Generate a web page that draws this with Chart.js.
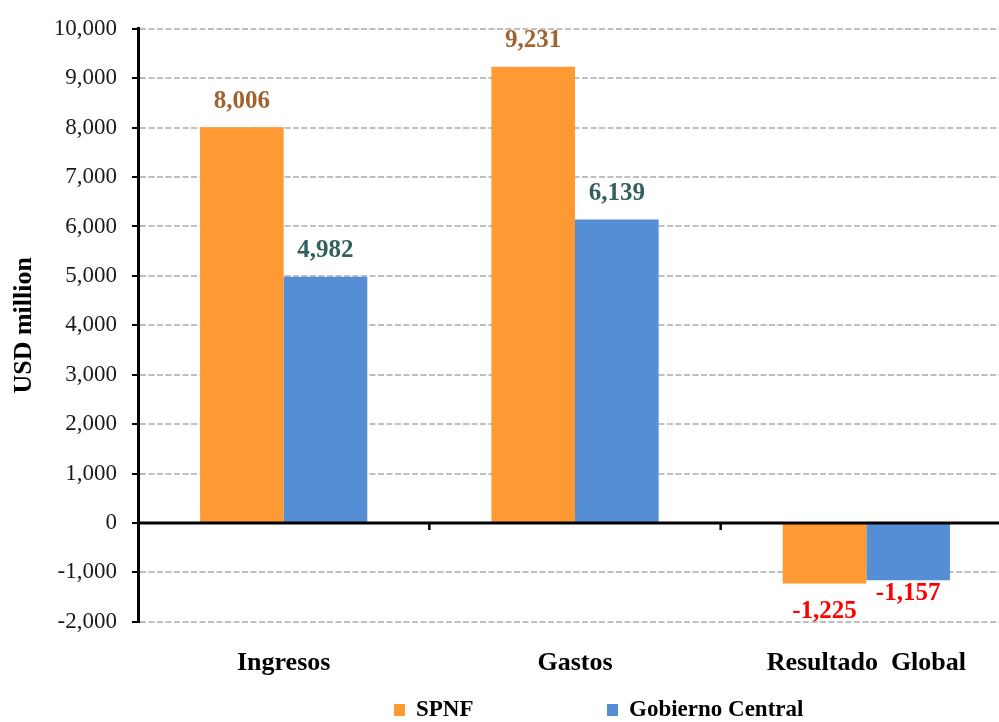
<!DOCTYPE html>
<html>
<head>
<meta charset="utf-8">
<script src="https://cdn.jsdelivr.net/npm/chart.js@4"></script>
<style>
  html, body { margin: 0; padding: 0; overflow: hidden; background: #ffffff; }
  #wrap { width: 1040px; height: 722px; position: relative; }
</style>
</head>
<body>
<div id="wrap"><canvas id="chart" width="1040" height="722"></canvas></div>
<script>
// Fiscal aggregates, USD million
const categories = ['Ingresos', 'Gastos', 'Resultado  Global'];
const seriesNames = ['SPNF', 'Gobierno Central'];
const spnfValues = [8006, 9231, -1225];
const gobiernoCentralValues = [4982, 6139, -1157];
const yAxisMin = -2000;
const yAxisMax = 10000;
const yAxisStep = 1000;

const SERIF = "'Liberation Serif', 'Times New Roman', serif";
Chart.defaults.font.family = SERIF;
Chart.defaults.color = '#000000';

const fmt = v => Number(v).toLocaleString('en-US');

// Solid zero line with short marks between the categories
const zeroAxis = {
  id: 'zeroAxis',
  afterDatasetsDraw(chart) {
    const { ctx, chartArea, scales: { x, y } } = chart;
    const y0 = y.getPixelForValue(0);
    ctx.save();
    ctx.strokeStyle = '#000000';
    ctx.lineWidth = 3;
    ctx.beginPath();
    ctx.moveTo(chartArea.left, y0);
    ctx.lineTo(chartArea.right, y0);
    ctx.stroke();
    ctx.lineWidth = 2.5;
    ctx.beginPath();
    for (let i = 1; i < categories.length; i++) {
      const px = (x.getPixelForTick(i - 1) + x.getPixelForTick(i)) / 2;
      ctx.moveTo(px, y0);
      ctx.lineTo(px, y0 + 7);
    }
    ctx.stroke();
    ctx.restore();
  }
};

// Value labels above positive bars and below negative ones
const valueLabels = {
  id: 'valueLabels',
  afterDatasetsDraw(chart) {
    const { ctx } = chart;
    ctx.save();
    ctx.font = 'bold 25px ' + SERIF;
    ctx.textAlign = 'center';
    ctx.textBaseline = 'middle';
    chart.data.datasets.forEach((ds, i) => {
      const meta = chart.getDatasetMeta(i);
      meta.data.forEach((bar, j) => {
        const v = ds.data[j];
        const positive = v >= 0;
        ctx.fillStyle = positive ? ds.labelColor : '#FF0000';
        const yPos = positive ? bar.y - ds.labelGapAbove : bar.y + ds.labelGapBelow;
        ctx.fillText(fmt(v), bar.x, yPos);
      });
    });
    ctx.restore();
  }
};

// Legend row under the category labels
const bottomLegend = {
  id: 'bottomLegend',
  afterDraw(chart, args, opts) {
    const { ctx } = chart;
    ctx.save();
    ctx.font = 'bold 23px ' + SERIF;
    ctx.textAlign = 'left';
    ctx.textBaseline = 'middle';
    chart.data.datasets.forEach((ds, i) => {
      const x = opts.itemX[i];
      ctx.fillStyle = ds.backgroundColor;
      ctx.fillRect(x, opts.y - 6, 11, 12);
      ctx.fillStyle = '#000000';
      ctx.fillText(ds.label, x + 22, opts.y);
    });
    ctx.restore();
  }
};

new Chart(document.getElementById('chart'), {
  type: 'bar',
  data: {
    labels: categories,
    datasets: [
      {
        label: seriesNames[0],
        data: spnfValues,
        backgroundColor: '#FF9933',
        labelColor: '#A0632F',
        labelGapAbove: 26,
        labelGapBelow: 28,
        barPercentage: 1.0,
        categoryPercentage: 0.574
      },
      {
        label: seriesNames[1],
        data: gobiernoCentralValues,
        backgroundColor: '#558ED5',
        labelColor: '#31605E',
        labelGapAbove: 26,
        labelGapBelow: 13,
        barPercentage: 1.0,
        categoryPercentage: 0.574
      }
    ]
  },
  options: {
    responsive: false,
    animation: false,
    layout: { padding: { top: 23, right: 28, bottom: 17, left: 0 } },
    plugins: {
      legend: { display: false },
      tooltip: { enabled: false },
      bottomLegend: { itemX: [394, 607], y: 710 }
    },
    scales: {
      x: {
        grid: { display: false, drawTicks: false },
        border: { display: false },
        ticks: { font: { size: 26, weight: 'bold' }, color: '#000000', padding: 26 }
      },
      y: {
        min: yAxisMin,
        max: yAxisMax,
        afterFit(scale) { scale.width = 138; },
        ticks: {
          stepSize: yAxisStep,
          font: { size: 23 },
          color: '#1a1a1a',
          padding: 15,
          callback: v => fmt(v)
        },
        grid: {
          color: '#BFBFBF',
          lineWidth: 2,
          tickColor: '#000000',
          tickLength: 6,
          tickWidth: 2
        },
        border: { display: true, color: '#000000', width: 3, dash: [6, 2.5] },
        title: {
          display: true,
          text: 'USD million',
          font: { size: 26, weight: 'bold' },
          color: '#000000',
          padding: { top: 9, bottom: 0 }
        }
      }
    }
  },
  plugins: [zeroAxis, valueLabels, bottomLegend]
});
</script>
</body>
</html>
